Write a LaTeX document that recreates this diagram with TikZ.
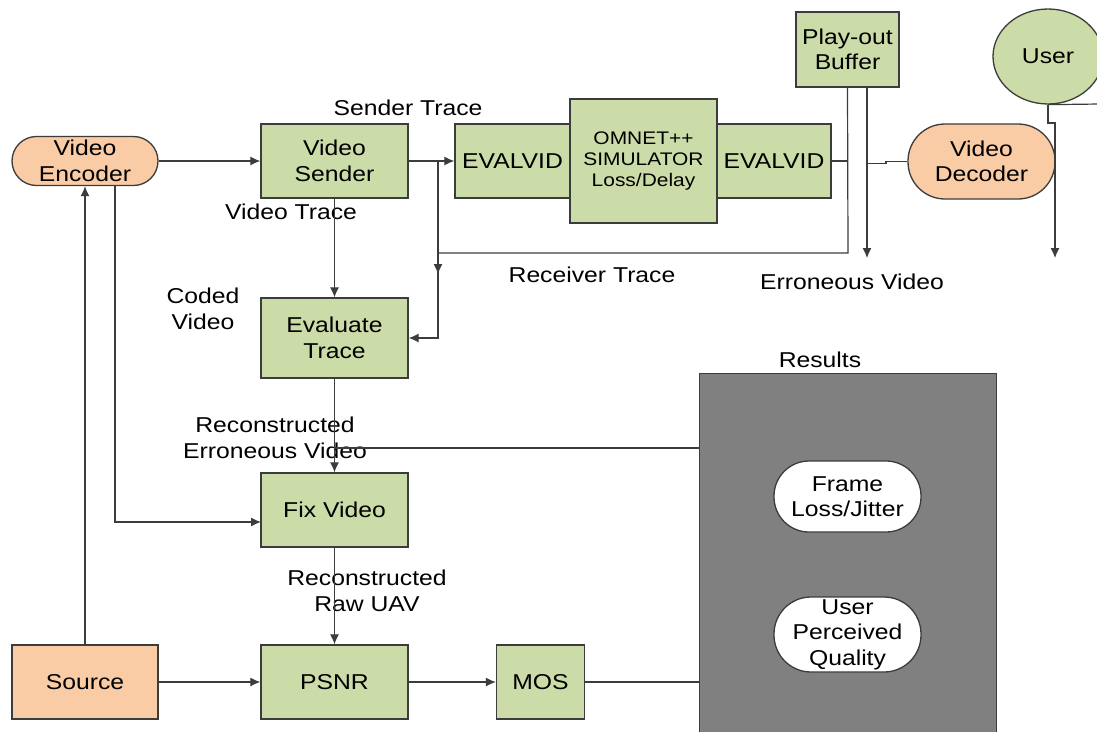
\documentclass[tikz,border=0pt]{standalone}
\usepackage{fontspec}
\setmainfont{Liberation Sans}[FakeStretch=1.15]
\usetikzlibrary{arrows.meta,calc,shapes.geometric}
\definecolor{gfill}{RGB}{204,220,168}
\definecolor{ofill}{RGB}{250,204,166}
\definecolor{rgray}{RGB}{128,128,128}
\definecolor{lcol}{RGB}{60,60,60}
\begin{document}
\begin{tikzpicture}[x=1pt,y=-1pt,
  every node/.style={font=\fontsize{21.5}{25.5}\selectfont, align=center, inner sep=0pt},
  gbox/.style={draw=lcol, line width=1.3pt, fill=gfill, rectangle},
  obox/.style={draw=lcol, line width=1.3pt, fill=ofill, rectangle},
  pill/.style={draw=lcol, line width=1.3pt, rectangle, rounded corners=#1},
  lab/.style={text=black},
  conn/.style={draw=lcol, line width=1.2pt},
  arr/.style={conn, -{Latex[length=10pt,width=9pt]}}]
\useasboundingbox (0,0) rectangle (1097,731);
\clip (0,0) rectangle (1097,731);
\fill[white] (0,0) rectangle (1097,731);

% nodes
\node[pill=24.5, fill=ofill, minimum width=146, minimum height=49] (enc) at (85,161) {Video\\Encoder};
\node[gbox, minimum width=147, minimum height=74] (vs) at (334.5,161) {Video\\Sender};
\node[gbox, minimum width=115, minimum height=74] (ev1) at (512.5,161) {EVALVID};
\node[gbox, minimum width=147, minimum height=124, font=\fontsize{18.2}{21}\selectfont] (om) at (643.5,161) {OMNET++\\SIMULATOR\\Loss/Delay};
\node[gbox, minimum width=114, minimum height=74] (ev2) at (774,161) {EVALVID};
\node[gbox, minimum width=103, minimum height=75] (buf) at (847.5,49.5) {Play-out\\Buffer};
\node[pill=37, fill=ofill, minimum width=147, minimum height=75] (dec) at (981.5,161.5) {Video\\Decoder};
\node[draw=lcol, line width=1.3pt, fill=gfill, ellipse, minimum width=110, minimum height=95] (user) at (1048,56.5) {User};
\node[gbox, minimum width=147, minimum height=80] (et) at (334.5,338) {Evaluate\\Trace};
\node[gbox, minimum width=147, minimum height=74] (fv) at (334.5,510) {Fix Video};
\node[obox, minimum width=146, minimum height=74] (src) at (85,682) {Source};
\node[gbox, minimum width=147, minimum height=74] (psnr) at (334.5,682) {PSNR};
\node[gbox, minimum width=88, minimum height=74] (mos) at (540.5,682) {MOS};
\node[draw=lcol, line width=1.3pt, fill=rgray, minimum width=297, minimum height=380, anchor=north west] (res) at (699,373) {};
\node[pill=35, fill=white, minimum width=147, minimum height=71] (fl) at (847.5,496.5) {Frame\\Loss/Jitter};
\node[pill=37, fill=white, minimum width=147, minimum height=75] (upq) at (847.5,634.5) {User\\Perceived\\Quality};

% labels
\node[lab] (lst) at (408,108) {Sender Trace};
\node[lab] (lvt) at (291,212) {Video Trace};
\node[lab] (lrt) at (592,275) {Receiver Trace};
\node[lab] (lev) at (852,282) {Erroneous Video};
\node[lab] (lcv) at (203,309) {Coded\\Video};
\node[lab] (lrev) at (275,438) {Reconstructed\\Erroneous Video};
\node[lab] (lres) at (820,360) {Results};
\node[lab] (lraw) at (367,591) {Reconstructed\\Raw UAV};

% coordinates
\coordinate (j1) at (438,161);
\coordinate (r1) at (848,253);
\coordinate (r2) at (438,253);
\coordinate (r3) at (438,274);
\coordinate (b2) at (867,87);
\coordinate (b2e) at (867,258);
\coordinate (c848) at (848,161);
\coordinate (d1) at (886,161.5);
\coordinate (d2) at (886,163.5);
\coordinate (d3) at (867,163.5);
\coordinate (u1) at (1048,123);
\coordinate (u2) at (1055,123);
\coordinate (u3) at (1055,258);
\coordinate (uoff) at (1100,104);
\coordinate (e1) at (115,185.5);
\coordinate (e2) at (115,522);
\coordinate (e3) at (261,522);
\coordinate (h1) at (334.5,448);

% connectors
\draw[arr] (enc.east) -- (vs.west);
\draw[arr] (vs.east) -- (ev1.west);
\draw[arr] (j1) |- (et.east);
\draw[arr] (buf.south) -- (r1) -- (r2) -- (r3);
\draw[arr] (b2) -- (b2e);
\draw[conn] (ev2.east) -- (c848);
\draw[conn] (dec.west) -- (d1) -- (d2) -- (d3);
\draw[conn] (user.south) -- (uoff);
\draw[arr] (user.south) -- (u1) -- (u2) -- (u3);
\draw[arr] (vs.south) -- (et.north);
\draw[arr] (et.south) -- (fv.north);
\draw[conn] (h1) -- (h1 -| res.west);
\draw[arr] (e1) -- (e2) -- (e3);
\draw[arr] (src.north) -- (enc.south);
\draw[arr] (fv.south) -- (psnr.north);
\draw[arr] (src.east) -- (psnr.west);
\draw[arr] (psnr.east) -- (mos.west);
\draw[conn] (mos.east) -- (mos.east -| res.west);
\end{tikzpicture}
\end{document}
